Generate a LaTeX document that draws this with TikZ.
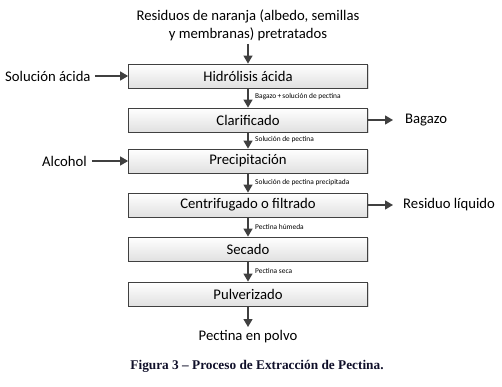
\documentclass[tikz,border=0pt]{standalone}
\usepackage{fontspec}
\setmainfont{Carlito}
\newfontfamily\capfont{Liberation Serif}
\usetikzlibrary{arrows.meta,shadows}
\definecolor{ln}{HTML}{404040}
\definecolor{capc}{HTML}{10102A}
\begin{document}
\begin{tikzpicture}[x=1pt,y=-1pt,
  proc/.style={draw=ln,line width=0.8pt,minimum width=239pt,minimum height=24pt,inner sep=0pt,
    top color=white,bottom color=black!12,font=\fontsize{14.7}{16}\selectfont,
    drop shadow={shadow xshift=1pt,shadow yshift=-1pt,fill=black!25,opacity=0.6}},
  txt/.style={font=\fontsize{14.7}{18}\selectfont,inner sep=0pt,align=center},
  small/.style={font=\fontsize{7.4}{8}\selectfont,inner sep=0pt,anchor=west},
  flow/.style={draw=ln,line width=1.3pt,-{Triangle[length=8pt,width=9pt]}}]
\useasboundingbox (0,0) rectangle (502,387);
\node[proc] (p1) at (248,76) {Hidrólisis ácida};
\node[proc] (p2) at (248,120) {Clarificado};
\node[proc] (p3) at (248,161) {Precipitación};
\node[proc] (p4) at (248,205) {Centrifugado o filtrado};
\node[proc] (p5) at (248,249) {Secado};
\node[proc] (p6) at (248,294) {Pulverizado};
\node[txt] (top) at (248,25) {Residuos de naranja (albedo, semillas\\y membranas) pretratados};
\node[txt,anchor=west] (sol) at (5,76) {Solución ácida};
\node[txt,anchor=west] (alc) at (42,161) {Alcohol};
\node[txt,anchor=west] (baz) at (405,120) {Bagazo};
\node[txt,anchor=west] (res) at (403,205) {Residuo líquido};
\node[txt] (pol) at (248,337) {Pectina en polvo};
\draw[flow] (248,44) -- (p1.north);
\draw[flow] (p1) -- (p2);
\draw[flow] (p2) -- (p3);
\draw[flow] (p3) -- (p4);
\draw[flow] (p4) -- (p5);
\draw[flow] (p5) -- (p6);
\draw[flow] (p6.south) -- (248,327);
\draw[flow] (sol.east) ++(4,0) -- (p1.west);
\draw[flow] (alc.east) ++(5,0) -- (p3.west);
\draw[flow] (p2.east) -- (393,120);
\draw[flow] (p4.east) -- (393,205);
\node[small] (l1) at (255,97) {Bagazo\,+\,solución de pectina};
\node[small] (l2) at (255,140) {Solución de pectina};
\node[small] (l3) at (255,183) {Solución de pectina precipitada};
\node[small] (l4) at (255,227) {Pectina húmeda};
\node[small] (l5) at (255,271) {Pectina seca};
\node[font=\capfont\bfseries\fontsize{13.3}{15}\selectfont,text=capc,inner sep=0pt] (cap) at (257,366) {Figura 3 – Proceso de Extracción de Pectina.};
\end{tikzpicture}
\end{document}
